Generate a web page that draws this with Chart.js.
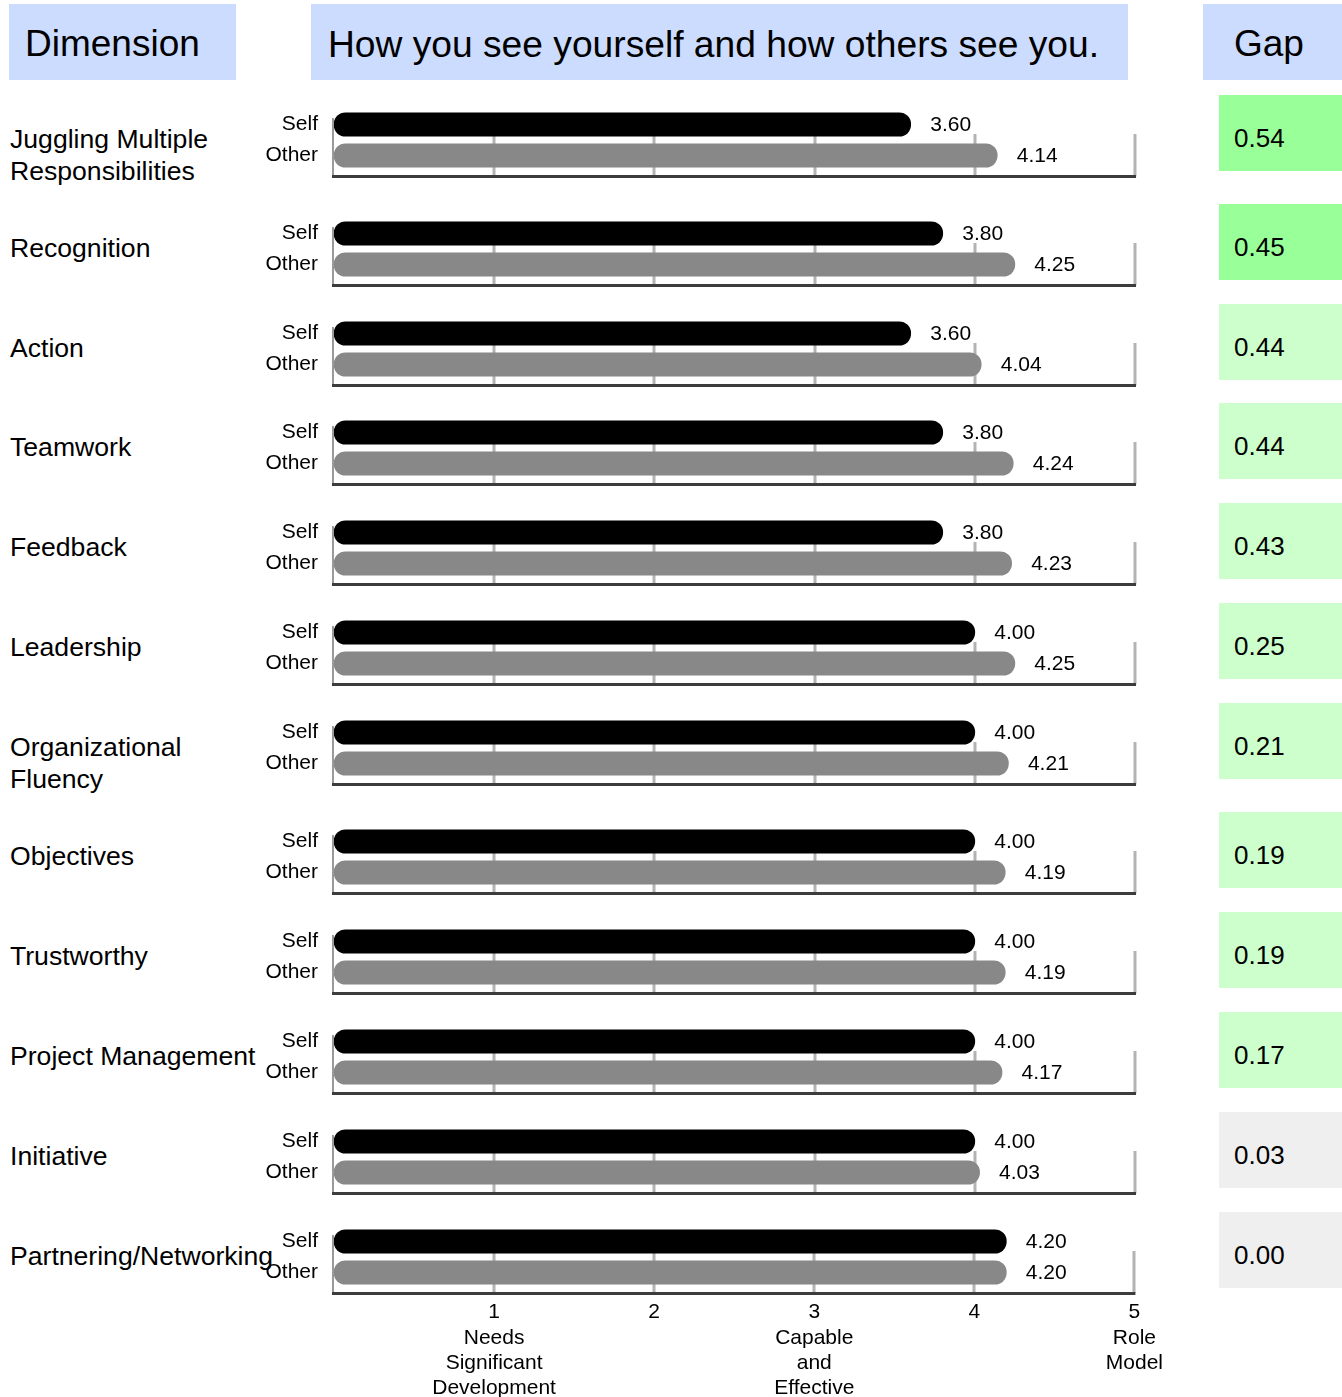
<!DOCTYPE html>
<html>
<head>
<meta charset="utf-8">
<script src="https://cdn.jsdelivr.net/npm/chart.js@4.4.1/dist/chart.umd.min.js"></script>
<style>
body { margin: 0; background: #fff; font-family: "Liberation Sans", Arial, sans-serif; color: #000; }
#page { position: relative; width: 1342px; height: 1397px; overflow: hidden; }
.head { position: absolute; top: 4px; height: 76px; line-height: 80px; background: #ccdcff; font-size: 37px; white-space: nowrap; box-sizing: border-box; }
.dim { position: absolute; left: 10px; font-size: 26.6px; line-height: 32px; white-space: nowrap; }
.gap { position: absolute; left: 1219px; width: 123px; height: 76px; line-height: 86px; padding-left: 15px; box-sizing: border-box; font-size: 26px; }
canvas.row { position: absolute; left: 240px; }
</style>
</head>
<body>
<div id="page">
  <div class="head" style="left:9px;width:227px;padding-left:16px;">Dimension</div>
  <div class="head" style="left:311px;width:817px;padding-left:17px;font-size:37.2px;">How you see yourself and how others see you.</div>
  <div class="head" style="left:1203px;width:139px;padding-left:31px;">Gap</div>
</div>
<script>
// values, top row first
var dimensions = [
    ["Juggling Multiple", "Responsibilities"],
    ["Recognition"],
    ["Action"],
    ["Teamwork"],
    ["Feedback"],
    ["Leadership"],
    ["Organizational", "Fluency"],
    ["Objectives"],
    ["Trustworthy"],
    ["Project Management"],
    ["Initiative"],
    ["Partnering/Networking"]
];
var seriesNames = ["Self", "Other"];
var selfScores = [3.60, 3.80, 3.60, 3.80, 3.80, 4.00, 4.00, 4.00, 4.00, 4.00, 4.00, 4.20];
var otherScores = [4.14, 4.25, 4.04, 4.24, 4.23, 4.25, 4.21, 4.19, 4.19, 4.17, 4.03, 4.20];
var gaps = [0.54, 0.45, 0.44, 0.44, 0.43, 0.25, 0.21, 0.19, 0.19, 0.17, 0.03, 0.00];
var scaleTicks = [1, 2, 3, 4, 5];
var tickNotes = [
    ["1", "Needs", "Significant", "Development"],
    ["2"],
    ["3", "Capable", "and", "Effective"],
    ["4"],
    ["5", "Role", "Model"]
];

var page = document.getElementById("page");
var PAD = 30; // room chart.js wants around the Self/Other labels

function gapColour(g) {
    if (g >= 0.45) { return "#99ff99"; }
    if (g >= 0.1) { return "#ccffcc"; }
    return "#efefef";
}

// grid, frame and value labels for each little row chart
var rowFrame = {
    id: "rowFrame",
    beforeDatasetsDraw: function (chart) {
        var ctx = chart.ctx;
        var x = chart.scales.x;
        var area = chart.chartArea;
        var mid = (area.top + area.bottom) / 2;
        var axisY = area.bottom + 5.5;
        ctx.save();
        ctx.strokeStyle = "#b3b3b3";
        ctx.lineWidth = 3;
        scaleTicks.forEach(function (v) {
            var px = Math.round(x.getPixelForValue(v));
            ctx.beginPath();
            ctx.moveTo(px, mid - 6);
            ctx.lineTo(px, axisY);
            ctx.stroke();
        });
        ctx.strokeStyle = "#9a9a9a";
        ctx.lineWidth = 2;
        var x0 = x.getPixelForValue(0) - 1;
        ctx.beginPath();
        ctx.moveTo(x0, mid - 22);
        ctx.lineTo(x0, axisY);
        ctx.stroke();
        ctx.restore();
    },
    afterDatasetsDraw: function (chart) {
        var ctx = chart.ctx;
        var x = chart.scales.x;
        var area = chart.chartArea;
        var axisY = area.bottom + 5.5;
        ctx.save();
        ctx.strokeStyle = "#3c3c3c";
        ctx.lineWidth = 3;
        ctx.beginPath();
        ctx.moveTo(x.getPixelForValue(0) - 2, axisY);
        ctx.lineTo(x.getPixelForValue(5) + 1, axisY);
        ctx.stroke();

        ctx.fillStyle = "#000";
        ctx.font = "21px 'Liberation Sans', Arial, sans-serif";
        ctx.textAlign = "left";
        ctx.textBaseline = "middle";
        chart.data.datasets.forEach(function (ds, i) {
            chart.getDatasetMeta(i).data.forEach(function (bar, j) {
                var v = ds.data[j];
                if (v === null) { return; }
                ctx.fillText(v.toFixed(2), bar.x + 19.5, bar.y + 1);
            });
        });
        ctx.restore();
    }
};

function makeRow(i, mid, last) {
    var m = Math.round(mid);
    var label = document.createElement("div");
    label.className = "dim";
    label.style.top = (m - 17) + "px";
    label.innerHTML = dimensions[i].join("<br>");
    page.appendChild(label);

    var gapBox = document.createElement("div");
    gapBox.className = "gap";
    gapBox.style.top = (m - 45) + "px";
    gapBox.style.background = gapColour(gaps[i]);
    gapBox.textContent = gaps[i].toFixed(2);
    page.appendChild(gapBox);

    var canvas = document.createElement("canvas");
    canvas.className = "row";
    canvas.width = 935;
    canvas.height = last ? PAD + 62 + 110 : PAD + 62 + PAD;
    canvas.style.top = (m - 31 - PAD) + "px";
    page.appendChild(canvas);

    new Chart(canvas.getContext("2d"), {
        type: "bar",
        data: {
            labels: seriesNames,
            datasets: [{
                data: [selfScores[i], null],
                backgroundColor: "#000000"
            }, {
                data: [null, otherScores[i]],
                backgroundColor: "#888888"
            }]
        },
        options: {
            indexAxis: "y",
            responsive: false,
            animation: false,
            devicePixelRatio: 1,
            layout: { padding: { top: PAD, bottom: last ? 0 : PAD, left: 0, right: 40 } },
            datasets: {
                bar: {
                    barThickness: 23.5,
                    borderRadius: 12,
                    borderSkipped: false,
                    grouped: false
                }
            },
            plugins: { legend: { display: false }, tooltip: { enabled: false } },
            scales: {
                x: {
                    display: last,
                    min: 0,
                    max: 5,
                    grid: { display: false, drawTicks: false },
                    border: { display: false },
                    afterFit: function (scale) { scale.height = last ? 110 : 0; },
                    ticks: {
                        stepSize: 1,
                        autoSkip: false,
                        maxRotation: 0,
                        padding: 12,
                        color: "#000",
                        font: { family: "'Liberation Sans', Arial, sans-serif", size: 21, lineHeight: 1.2 },
                        callback: function (value) {
                            var k = scaleTicks.indexOf(value);
                            return k < 0 ? "" : tickNotes[k];
                        }
                    }
                },
                y: {
                    grid: { display: false, drawTicks: false },
                    border: { display: false },
                    afterFit: function (scale) { scale.width = 94; },
                    ticks: {
                        padding: 16,
                        autoSkip: false,
                        color: "#000",
                        font: { family: "'Liberation Sans', Arial, sans-serif", size: 21 }
                    }
                }
            }
        },
        plugins: [rowFrame]
    });
}

// rows are ~100px apart, a two-line label adds a bit more room
var mid = 139.6;
dimensions.forEach(function (dim, i) {
    makeRow(i, mid, i === dimensions.length - 1);
    mid += 99.85 + (dim.length > 1 ? 9.3 : 0);
});
</script>
</body>
</html>
